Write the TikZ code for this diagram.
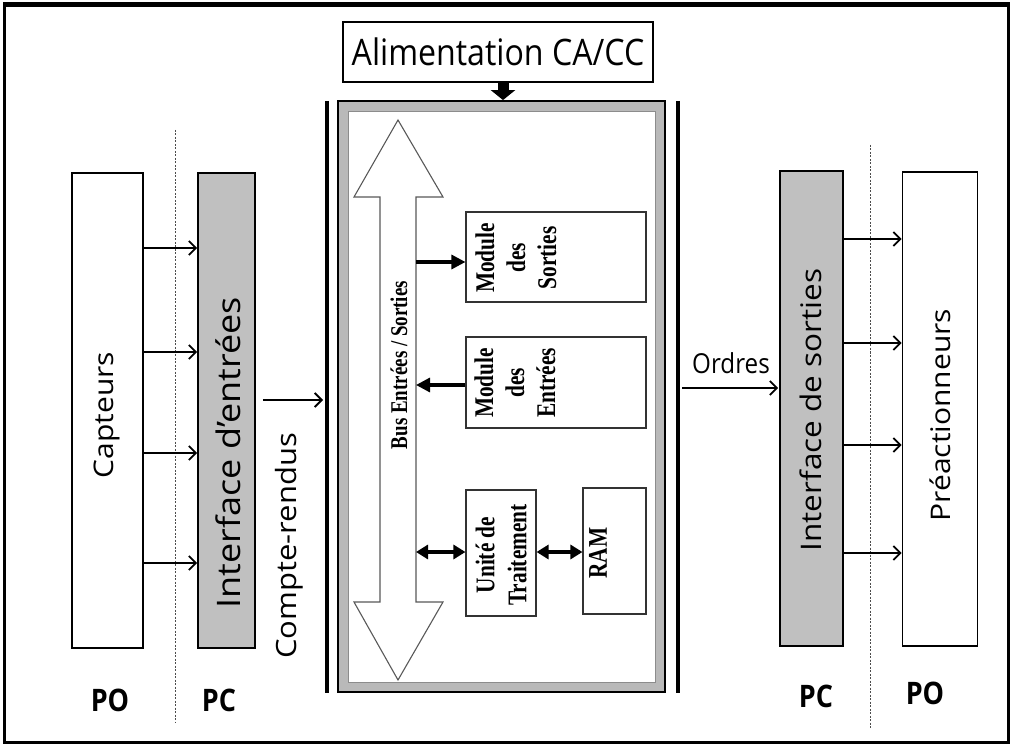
\documentclass[tikz,border=0pt]{standalone}
\usepackage{fontspec}
\setmainfont{Open Sans}
\newfontfamily\tnr{Liberation Serif}
\usepackage{graphicx}
\usetikzlibrary{arrows.meta}
\newcommand{\hsq}[1]{\scalebox{0.88}[1]{#1}}
\newcommand{\vsq}[1]{\scalebox{1}[0.9]{#1}}
\newcommand{\tsq}[1]{\scalebox{0.79}[1]{#1}}
\definecolor{ifgray}{RGB}{192,192,192}
\definecolor{bandgray}{RGB}{185,185,185}
\begin{document}
\begin{tikzpicture}[x=1pt,y=-1pt,
  sidebox/.style={draw=black, line width=1.8pt, inner sep=0pt},
  modbox/.style={draw=black!80, line width=1.1pt, inner sep=0pt, fill=white},
  sidelabel/.style={rotate=90, inner sep=0pt, font=\fontsize{30}{32}\selectfont},
  tlabel/.style={rotate=90, inner sep=0pt, align=center},
  thinarrow/.style={line width=1.5pt, -{Straight Barb[length=7pt,width=14pt,line width=1.8pt]}},
  busarrow/.style={line width=3.2pt, -{Triangle[length=14pt,width=14pt]}},
  dbarrow/.style={line width=3.2pt, {Triangle[length=12pt,width=14pt]}-{Triangle[length=12pt,width=14pt]}},
  sep/.style={draw=black!70, line width=0.7pt, dash pattern=on 2pt off 1.5pt},
  pox/.style={inner sep=0pt, font=\bfseries\fontsize{31}{33}\selectfont}
]
\useasboundingbox (0,0) rectangle (1013,746);
\fill[white] (0,0) rectangle (1013,746);
% outer frame
\draw[line width=3pt] (4.5,5.5) rectangle (1008.5,742);
\draw[line width=5pt] (3,5) -- (1010,5);

% separators
\draw[sep] (175,130) -- (175,722);
\draw[sep] (870,145) -- (870,728);

% left side
\node[sidebox, minimum width=71pt, minimum height=475pt] (cap) at (107.5,410.5) {};
\node[sidelabel] (capt) at (107,415) {\vsq{Capteurs}};
\node[sidebox, fill=ifgray, minimum width=57pt, minimum height=475pt] (ie) at (226.5,410.5) {};
\node[sidelabel, font=\fontsize{36}{38}\selectfont] (iet) at (228,453) {\vsq{Interface d’entrées}};

\foreach \yy/\nm in {248/a,352/b,453/c,563/d}{
  \coordinate (ly\nm) at (0,\yy);
  \draw[thinarrow] (cap.east |- ly\nm) -- (ie.west |- ly\nm);
}

% right side
\node[sidebox, fill=ifgray, minimum width=63pt, minimum height=475pt] (os) at (811.5,408.5) {};
\node[sidelabel, font=\fontsize{31.5}{33}\selectfont] (ost) at (811,410) {\vsq{Interface de sorties}};
\node[sidebox, minimum width=75pt, minimum height=474pt] (pre) at (940,409) {};
\node[sidelabel] (pret) at (940,415) {\vsq{Préactionneurs}};

\foreach \yy/\nm in {239/a,343/b,445/c,553/d}{
  \coordinate (ry\nm) at (0,\yy);
  \draw[thinarrow] (os.east |- ry\nm) -- (pre.west |- ry\nm);
}

% PLC bars
\coordinate (lbtop) at (327,101);
\coordinate (lbbot) at (327,693);
\coordinate (rbtop) at (678,101);
\coordinate (rbbot) at (678,693);
\draw[line width=4pt] (lbtop) -- (lbbot);
\draw[line width=4pt] (rbtop) -- (rbbot);

% PLC box
\node[draw=black, line width=1.8pt, fill=bandgray, minimum width=327pt, minimum height=591pt, inner sep=0pt] (plc) at (501.5,396.5) {};
\node[draw=black!45, line width=0.8pt, fill=white, minimum width=307pt, minimum height=571pt, inner sep=0pt] (plcin) at (501.5,396.5) {};

% power supply
\node[draw=black, line width=2pt, minimum width=310pt, minimum height=60pt, inner sep=0pt] (alim) at (498,52)
  {\hsq{\fontsize{36.5}{40}\selectfont Alimentation CA/CC}};
\coordinate (pin) at (503,0);
\draw[line width=11pt, -{Triangle[length=10pt,width=24pt]}] (alim.south -| pin) -- (plc.north -| pin);

% compte-rendus / ordres
\coordinate (cry) at (0,400);
\draw[thinarrow] ([xshift=7pt]ie.east |- cry) -- ([xshift=-4pt]lbtop |- cry);
\node[sidelabel, font=\fontsize{31}{33}\selectfont] (crt) at (289,546) {\vsq{Compte-rendus}};
\coordinate (ory) at (0,388);
\draw[thinarrow] ([xshift=4pt]rbtop |- ory) -- ([xshift=-1pt]os.west |- ory);
\node[inner sep=0pt, font=\fontsize{27.5}{30}\selectfont] (ord) at (731,363) {\hsq{Ordres}};

% bus arrow
\draw[draw=black!65, line width=1.1pt, fill=white]
  (398,120) -- (443,197) -- (416,197) -- (416,602) -- (443,602) -- (398,680)
  -- (354,602) -- (380,602) -- (380,197) -- (354,197) -- cycle;
\node[tlabel, font=\tnr\bfseries\fontsize{24}{26}\selectfont] (bus) at (399,365) {\tsq{Bus Entrées / Sorties}};
\coordinate (busR) at (416,0);

% modules
\node[modbox, minimum width=180pt, minimum height=90pt] (ms) at (556,257) {};
\node[tlabel, font=\tnr\bfseries\fontsize{27}{31}\selectfont] (mst) at (516,258) {\tsq{Module}\\\tsq{des}\\\tsq{Sorties}};
\node[modbox, minimum width=180pt, minimum height=91pt] (me) at (556,382.5) {};
\node[tlabel, font=\tnr\bfseries\fontsize{27}{31}\selectfont] (met) at (515,383) {\tsq{Module}\\\tsq{des}\\\tsq{Entrées}};
\node[modbox, minimum width=70pt, minimum height=126pt] (ut) at (501,553) {};
\node[tlabel, font=\tnr\bfseries\fontsize{27}{32}\selectfont] (utt) at (501,555) {\tsq{Unité de}\\\tsq{Traitement}};
\node[modbox, minimum width=63pt, minimum height=126pt] (ram) at (614.5,551) {};
\node[tlabel, font=\tnr\bfseries\fontsize{27}{30}\selectfont] (ramt) at (598,553) {\tsq{RAM}};

\coordinate (y1) at (0,262);
\coordinate (y2) at (0,385);
\coordinate (y3) at (0,552);
\draw[busarrow] (busR |- y1) -- (ms.west |- y1);
\draw[busarrow] (me.west |- y2) -- (busR |- y2);
\draw[dbarrow] (busR |- y3) -- (ut.west |- y3);
\draw[dbarrow] (ut.east |- y3) -- (ram.west |- y3);

% PO / PC
\node[pox] (po1) at (110,700) {\scalebox{0.87}[1]{PO}};
\node[pox] (pc1) at (219,700) {\scalebox{0.87}[1]{PC}};
\node[pox] (pc2) at (816,696) {\scalebox{0.87}[1]{PC}};
\node[pox] (po2) at (925,693) {\scalebox{0.87}[1]{PO}};
\end{tikzpicture}
\end{document}
